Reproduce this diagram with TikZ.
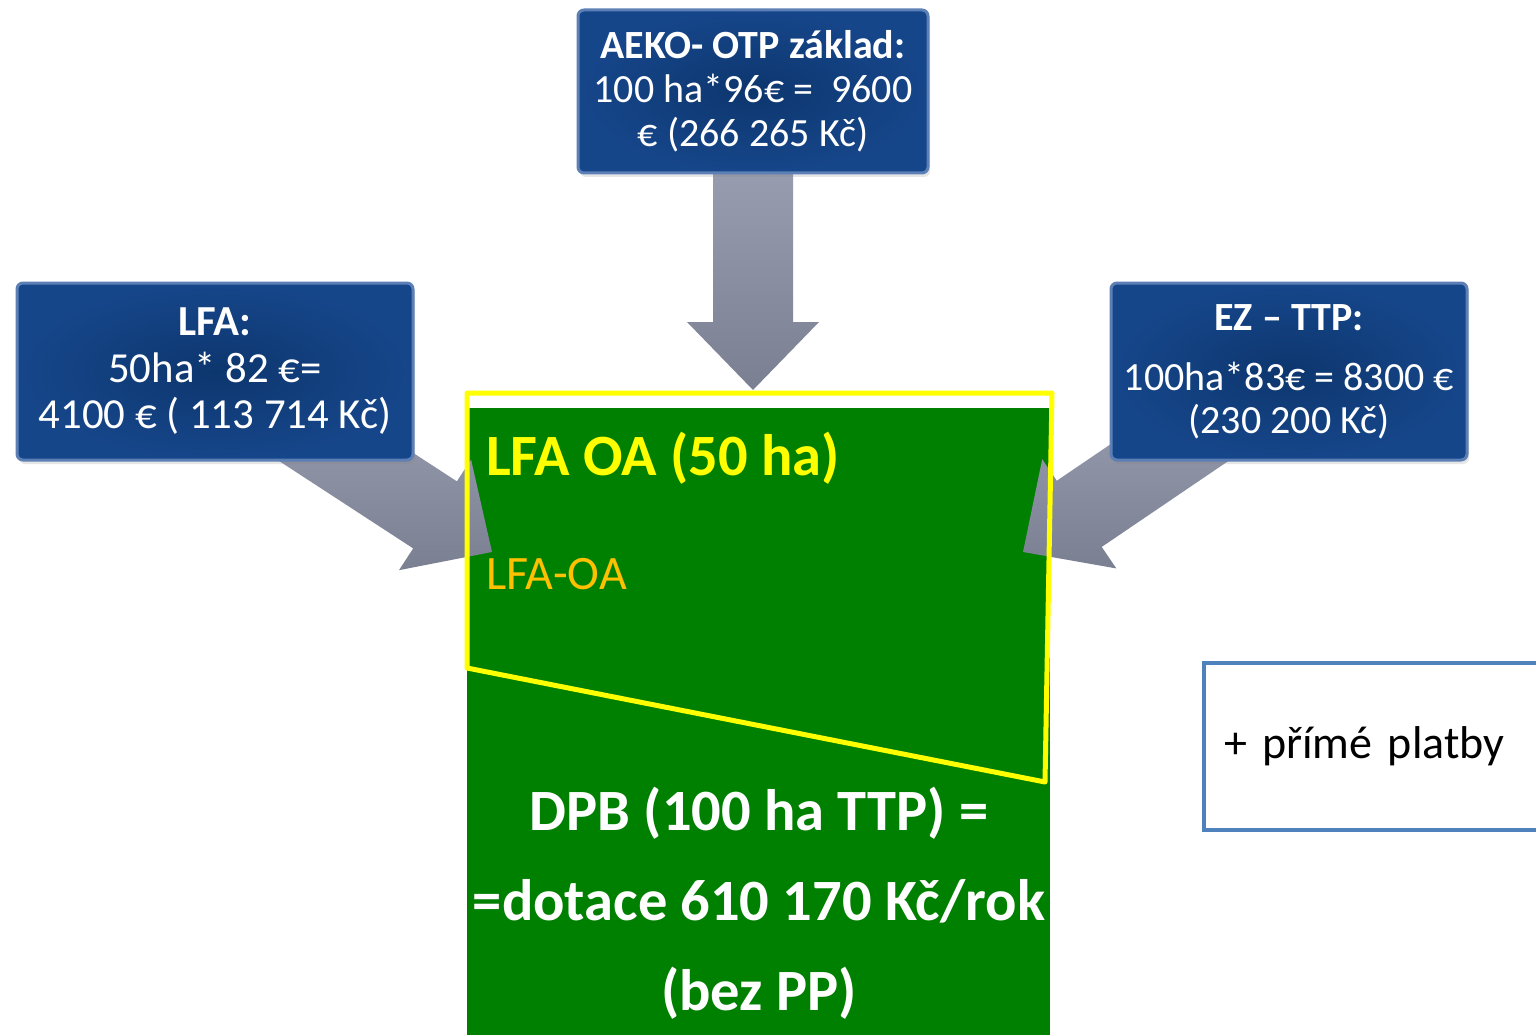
\documentclass[tikz,border=0pt]{standalone}
\usepackage{fontspec}
\setmainfont{Carlito}
\usepackage{tikz}
\usetikzlibrary{calc,shadows}

\definecolor{boxblue}{RGB}{22,70,138}
\definecolor{boxdark}{RGB}{13,54,110}
\definecolor{boxrim}{RGB}{92,127,182}
\definecolor{arrowlight}{RGB}{162,167,186}
\definecolor{arrowdark}{RGB}{122,127,146}
\definecolor{oagreen}{RGB}{0,128,0}
\definecolor{oayellow}{RGB}{255,255,0}
\definecolor{oaorange}{RGB}{255,192,0}
\definecolor{pprim}{RGB}{79,129,189}

% fat block arrow from #1 to its tip #2
\newcommand{\fatarrow}[2]{%
  \path let \p1=(#1), \p2=(#2) in
    \pgfextra{%
      \pgfmathsetmacro{\arrang}{atan2(\y2-\y1,\x2-\x1)}%
      \pgfmathsetmacro{\arrlen}{veclen(\x2-\x1,\y2-\y1)}%
      \global\let\arrang\arrang
      \global\let\arrlen\arrlen};
  \begin{scope}[shift={(#2)}, rotate=\arrang]
    \shade[arrowbody] (0pt,0pt) -- (-68pt,66pt) -- (-68pt,40pt) -- ({-\arrlen pt},40pt)
      -- ({-\arrlen pt},-40pt) -- (-68pt,-40pt) -- (-68pt,-66pt) -- cycle;
  \end{scope}}

\begin{document}
\begin{tikzpicture}[x=1pt,y=-1pt]
\tikzset{infobox/.style = {rectangle, rounded corners=6pt, draw=boxrim, line width=3pt,
  inner color=boxdark, outer color=boxblue, text=white, align=center, inner sep=0pt,
  font=\fontsize{40}{44}\selectfont,
  drop shadow={opacity=0.2, shadow xshift=2pt, shadow yshift=-4pt}}}
\tikzset{arrowbody/.style = {top color=arrowlight, bottom color=arrowdark}}
\tikzset{oabox/.style = {rectangle, fill=oagreen, inner sep=0pt,
  minimum width=583pt, minimum height=627pt}}
\tikzset{plusbox/.style = {rectangle, draw=pprim, line width=4pt, fill=white,
  minimum height=167pt, text width=320pt, inner xsep=20pt, align=left,
  font=\fontsize{46}{52}\selectfont}}

\useasboundingbox (0,0) rectangle (1536,1035);

% positions
\coordinate (aekopos) at (753,91.5);
\coordinate (lfapos) at (215,371.5);
\coordinate (ezpos) at (1289,371.5);
\coordinate (aekotip) at (753,390);
\coordinate (lfatip) at (492,552);
\coordinate (eztip) at (1023,552);

% green field
\node[oabox] (oa) at (758.5,721.5) {};

% arrows
\fatarrow{aekopos}{aekotip}
\fatarrow{lfapos}{lfatip}
\fatarrow{ezpos}{eztip}

% yellow frame
\draw[oayellow, line width=5pt, line join=round] (467,393) -- (1052,393) -- (1045,782) -- (467,668) -- cycle;

% texts in the field
\node[anchor=base west, inner sep=0pt, text=oayellow, font=\fontsize{58.5}{62}\selectfont\bfseries] (oatitle) at (486,475) {LFA OA (50 ha)};
\node[anchor=base west, inner sep=0pt, text=oaorange, font=\fontsize{48}{52}\selectfont] (oasub) at (486,589) {LFA-OA};
\node[text=white, align=center, inner sep=0pt, font=\fontsize{58.5}{90}\selectfont\bfseries] (dpb) at (759,903)
  {DPB (100 ha TTP) =\\=dotace 610 170 Kč/rok\\(bez PP)};

% boxes
\node[infobox, minimum width=350pt, minimum height=163pt] (aeko) at (aekopos)
  {\textbf{AEKO- OTP základ:}\\100 ha*96€ = \ 9600\\€ (266 265 Kč)};
\node[infobox, minimum width=396pt, minimum height=177pt, font=\fontsize{42.8}{46.5}\selectfont] (lfa) at (lfapos)
  {\textbf{LFA:}\\50ha* 82 €=\\4100 € ( 113 714 Kč)};
\node[infobox, minimum width=356pt, minimum height=177pt, font=\fontsize{40}{43}\selectfont] (ez) at (ezpos)
  {\textbf{EZ – TTP:}\\[17pt]100ha*83€ = 8300 €\\(230 200 Kč)};

\node[plusbox, anchor=west] (pp) at (1202,746.5) {+ přímé platby};

\end{tikzpicture}
\end{document}
